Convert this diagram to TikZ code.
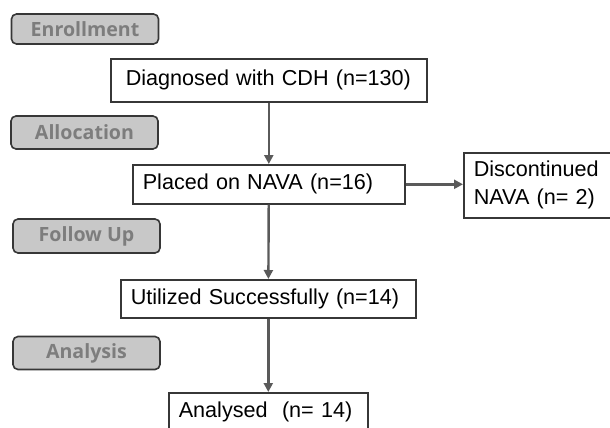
\documentclass[tikz,border=0pt]{standalone}
\usepackage{fontspec}
\setmainfont{Liberation Sans}
\newfontfamily\stagefont{Open Sans}
\usepackage{xcolor}
\usetikzlibrary{arrows.meta}
\definecolor{stagefill}{RGB}{200,200,200}
\definecolor{stagetext}{RGB}{125,125,125}
\definecolor{boxline}{RGB}{55,55,55}
\definecolor{arrowgray}{RGB}{90,90,90}

\begin{document}
\begin{tikzpicture}[x=0.5pt, y=-0.5pt,
stagebox/.style={font=\stagefont\bfseries\fontsize{9.8}{11}\selectfont, text=stagetext, draw=boxline, fill=stagefill, rounded corners=2.5pt, line width=0.8pt, minimum width=73.5pt, minimum height=16.5pt, inner sep=0pt},
flowbox/.style={font=\fontsize{10.8}{14}\selectfont, draw=boxline, line width=0.8pt, align=left, inner xsep=5pt, inner ysep=0pt, anchor=north west},
flowarrow/.style={-{Triangle[length=4.5pt,width=4.5pt]}, draw=arrowgray, line width=1.2pt}]
\useasboundingbox (0,0) rectangle (610,428);
\clip (0,0) rectangle (610,428);
%stages
\node[stagebox, minimum height=15pt] (enrol) at (85,29) {Enrollment};
\node[stagebox] (alloc) at (84.5,132.5) {Allocation};
\node[stagebox, minimum height=17pt] (follow) at (86.5,236) {Follow Up};
\node[stagebox] (analysis) at (86.5,353) {Analysis};
%flow
\node[flowbox, inner xsep=7.5pt, text width=143pt, minimum height=21.5pt] (diag) at (110,58) {Diagnosed with CDH (n=130)};
\node[flowbox, text width=126pt, minimum height=19.5pt] (placed) at (132,164) {Placed on NAVA (n=16)};
\node[flowbox, text width=85pt, minimum height=32.5pt] (disc) at (463,152) {Discontinued\\NAVA (n= 2)};
\node[flowbox, text width=137.5pt, minimum height=19pt] (util) at (120,279) {Utilized Successfully (n=14)};
\node[flowbox, text width=89.5pt, minimum height=19pt] (anal) at (168,392) {Analysed\ \ (n= 14)};
\draw[flowarrow] (diag) -- (placed);
\draw[flowarrow] (placed) -- (util);
\draw[flowarrow] (util) -- (anal);
\draw[flowarrow] (placed.east) -- (placed.east -| disc.west);
\end{tikzpicture}
\end{document}
